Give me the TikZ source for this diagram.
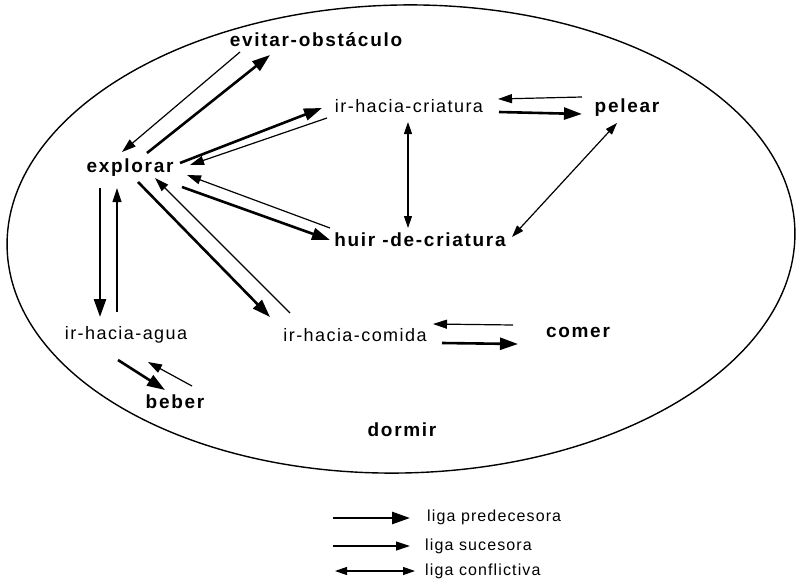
\documentclass[tikz,border=0pt]{standalone}
\usepackage{fontspec}
\setmainfont{Liberation Sans}
\newfontfamily\lblfont[LetterSpace=8]{Liberation Sans}
\newfontfamily\lblboldfont[LetterSpace=9]{Liberation Sans}
\newfontfamily\legfont[LetterSpace=7]{Liberation Sans}
\usetikzlibrary{arrows.meta,calc}
\begin{document}
\begin{tikzpicture}[x=1pt,y=-1pt,
  beh/.style={font=\lblfont\fontsize{18}{20}\selectfont, inner sep=0pt},
  behb/.style={font=\lblboldfont\bfseries\fontsize{19}{21}\selectfont, inner sep=0pt},
  leg/.style={font=\legfont\fontsize{16}{18}\selectfont, inner sep=0pt, anchor=west},
  pred/.style={line width=2.6pt, -{Triangle[length=18pt,width=12pt]}},
  suc/.style={line width=1.2pt, -{Triangle[length=14pt,width=9pt]}},
  conf/.style={line width=1.2pt, {Triangle[length=12pt,width=8pt]}-{Triangle[length=12pt,width=8pt]}}]
\useasboundingbox (0,0) rectangle (796,581);

% boundary of the behaviour network
\draw[line width=1.4pt, rotate around={1.2:(401,239)}] (401,239) ellipse [x radius=394pt, y radius=234pt];

% behaviours
\node[behb] (E) at (130,168) {explorar};
\node[behb] (O) at (316,40) {evitar-obstáculo};
\node[beh]  (C) at (409,106) {ir-hacia-criatura};
\node[behb] (P) at (627,108) {pelear};
\node[behb] (H) at (420,240) {huir -de-criatura};
\node[beh]  (A) at (126,335) {ir-hacia-agua};
\node[beh]  (F) at (355,335) {ir-hacia-comida};
\node[behb] (M) at (578,332) {comer};
\node[behb] (B) at (175,402) {beber};
\node[behb] (D) at (402,430) {dormir};

% links
\draw[pred] ($(E)+(17,-15)$) -- ($(O)+(-46,15)$);
\draw[suc]  ($(O)+(-76,12)$) -- ($(E)+(-8,-16)$);
\draw[pred] ($(E)+(50,-5)$) -- ($(C)+(-87,2)$);
\draw[suc]  ($(C)+(-82,12)$) -- ($(E)+(60,-3)$);
\draw[suc]  ($(H)+(-90,-12)$) -- ($(E)+(57,7)$);
\draw[pred] ($(E)+(52,19)$) -- ($(H)+(-90,0)$);
\draw[pred] ($(E)+(8,14)$) -- ($(F)+(-85,-18)$);
\draw[suc]  ($(F)+(-65,-22)$) -- ($(E)+(25,10)$);
\draw[pred] ($(E)+(-30,20)$) -- ($(A)+(-26,-18)$);
\draw[suc]  ($(A)+(-9,-23)$) -- ($(E)+(-13,20)$);
\draw[pred] ($(A)+(-8,25)$) -- ($(B)+(-10,-12)$);
\draw[suc]  ($(B)+(17,-16)$) -- ($(A)+(22,27)$);
\draw[conf] ($(C)+(-1,16)$) -- ($(H)+(-12,-12)$);
\draw[conf] ($(P)+(-10,15)$) -- ($(H)+(92,-3)$);
\draw[suc]  ($(P)+(-45,-11)$) -- ($(C)+(89,-7)$);
\draw[pred] ($(C)+(90,6)$) -- ($(P)+(-45,6)$);
\draw[suc]  ($(M)+(-65,-7)$) -- ($(F)+(78,-11)$);
\draw[pred] ($(F)+(87,8)$) -- ($(M)+(-60,12)$);

% legend
\node[leg] (lp) at (427,517) {liga predecesora};
\node[leg] (ls) at (425,546) {liga sucesora};
\node[leg] (lc) at (425,571) {liga conflictiva};
\coordinate (lp0) at (333,518);
\coordinate (ls0) at (333,546);
\coordinate (lc0) at (335,571);
\draw[pred] (lp0) -- ($(lp.west)+(-17,1)$);
\draw[suc]  (ls0) -- ($(ls.west)+(-15,0)$);
\draw[conf] (lc0) -- ($(lc.west)+(-10,0)$);
\end{tikzpicture}
\end{document}
